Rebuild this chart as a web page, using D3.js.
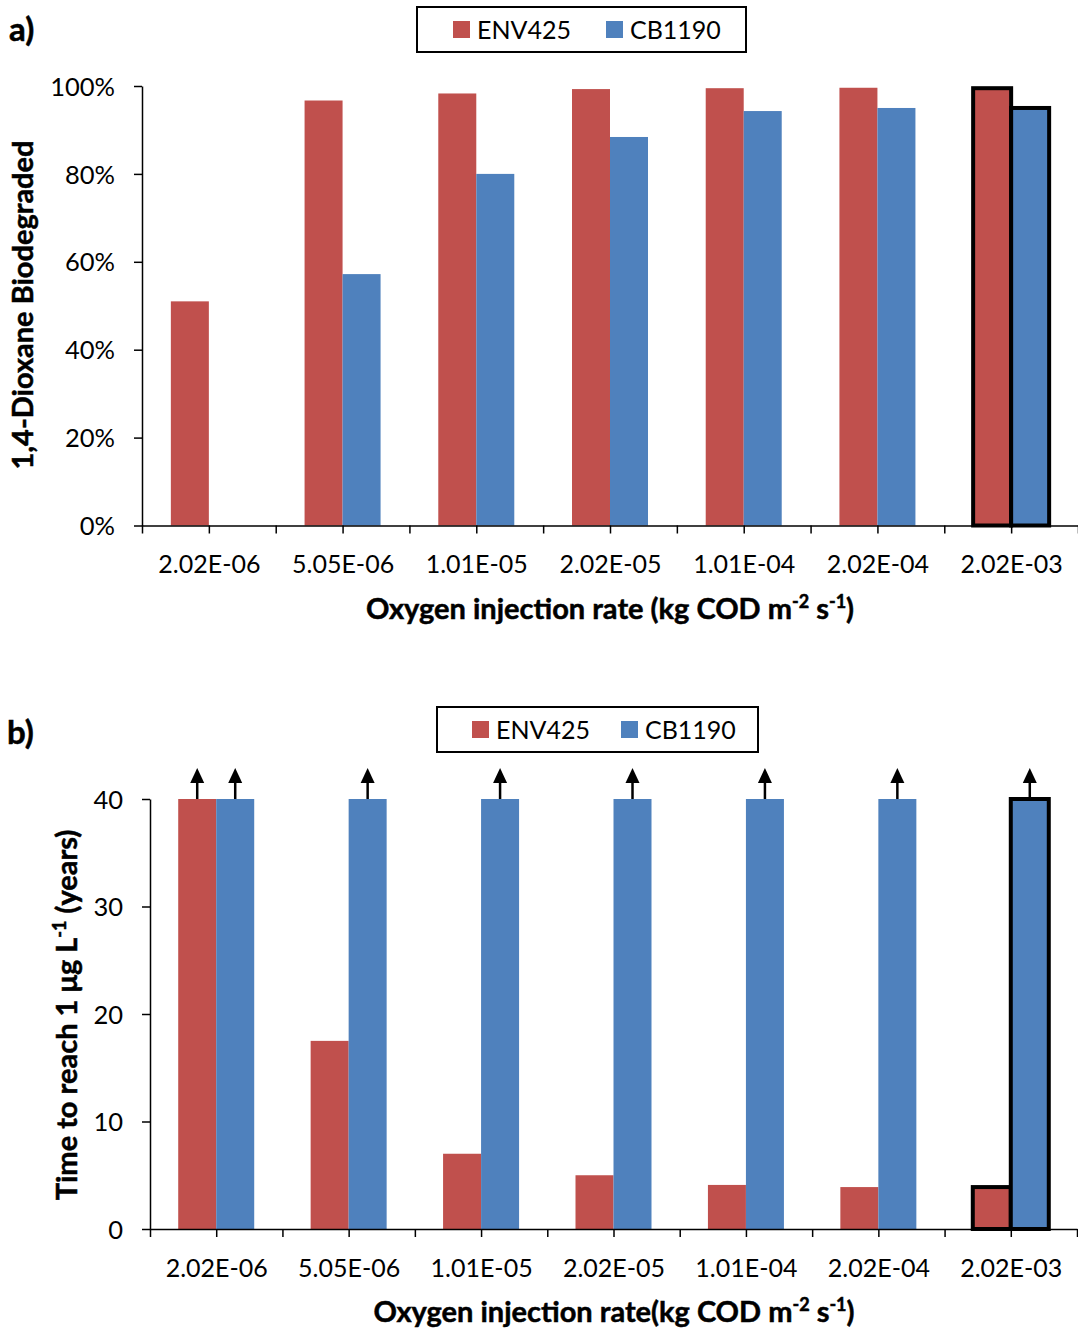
<!DOCTYPE html>
<html>
<head>
<meta charset="utf-8">
<script src="https://cdn.jsdelivr.net/npm/d3@7"></script>
<style>
  body { margin: 0; background: #fff; }
  text { font-family: Lato, "Open Sans", sans-serif; fill: #000; }
  .title { font-weight: bold; stroke: #000; stroke-width: 0.5px; }
</style>
</head>
<body>
<script>
//------------------------------------------data------------------------------------------

var categories = ["2.02E-06", "5.05E-06", "1.01E-05", "2.02E-05", "1.01E-04", "2.02E-04", "2.02E-03"];
var seriesNames = ["ENV425", "CB1190"];
var seriesColors = ["#C0504D", "#4F81BD"];

// a) fraction of 1,4-dioxane biodegraded
var degradedENV425 = [0.51, 0.967, 0.983, 0.993, 0.995, 0.996, 0.995];
var degradedCB1190 = [null, 0.572, 0.800, 0.884, 0.943, 0.950, 0.950];

// b) years to reach 1 ug/L (40 = more than 40 years, drawn with arrow)
var yearsENV425 = [40, 17.5, 7.0, 5.0, 4.1, 3.9, 3.9];
var yearsCB1190 = [40, 40, 40, 40, 40, 40, 40];
var overENV425 = [true, false, false, false, false, false, false];
var overCB1190 = [true, true, true, true, true, true, true];

var highlighted = "2.02E-03";

//------------------------------------------svg-------------------------------------------

var svg = d3.select("body").append("svg")
    .attr("width", 1078)
    .attr("height", 1331);

function drawPanel(opt) {
  var g = svg.append("g");

  var x = d3.scaleBand().domain(categories).range([opt.left, opt.right]);
  var xs = d3.scaleBand().domain(seriesNames).range([0, 76]);
  var xt = d3.scaleLinear().domain([0, categories.length]).range([opt.left, opt.right]);
  var y = d3.scaleLinear().domain(opt.domain).range([opt.bottom, opt.top]);

  var rows = categories.map(function(c, i) {
    return [
      { cat: c, s: seriesNames[0], v: opt.values[0][i], over: opt.over ? opt.over[0][i] : false },
      { cat: c, s: seriesNames[1], v: opt.values[1][i], over: opt.over ? opt.over[1][i] : false }
    ];
  });
  var bars = d3.merge(rows).filter(function(d) { return d.v != null; });

  function bx(d) { return x(d.cat) + (x.bandwidth() - 76) / 2 + xs(d.s); }

  g.selectAll("rect.bar")
    .data(bars)
    .enter().append("rect")
      .attr("class", "bar")
      .attr("x", bx)
      .attr("width", xs.bandwidth())
      .attr("y", function(d) { return y(d.v); })
      .attr("height", function(d) { return y(0) - y(d.v); })
      .attr("fill", function(d) { return seriesColors[seriesNames.indexOf(d.s)]; })
      .attr("stroke", function(d) { return d.cat == highlighted ? "#000" : "none"; })
      .attr("stroke-width", 4);

  // arrows for "more than"
  var arrows = bars.filter(function(d) { return d.over; });
  var ag = g.selectAll("g.arrow")
    .data(arrows)
    .enter().append("g")
      .attr("class", "arrow")
      .attr("transform", function(d) {
        return "translate(" + (bx(d) + xs.bandwidth() / 2) + "," + y(d.v) + ")";
      });
  ag.append("line")
    .attr("y1", 0).attr("y2", -18)
    .attr("stroke", "#000").attr("stroke-width", 2.5);
  ag.append("path")
    .attr("d", "M-7,-16L7,-16L0,-31Z")
    .attr("fill", "#000");

  // y axis
  var yAxis = g.append("g")
    .attr("transform", "translate(" + opt.left + ",0)")
    .call(d3.axisLeft(y).tickValues(opt.ticks).tickSize(8).tickSizeOuter(0).tickFormat(opt.fmt));
  yAxis.select(".domain").attr("stroke", "#000").attr("stroke-width", 1.5);
  yAxis.selectAll(".tick line").attr("stroke", "#000").attr("stroke-width", 1.5);
  yAxis.selectAll(".tick text")
    .attr("x", -27).attr("dy", "0.36em")
    .style("font-size", "25.5px").style("font-family", "Lato");

  // x axis
  var xAxis = g.append("g")
    .attr("transform", "translate(0," + opt.bottom + ")")
    .call(d3.axisBottom(xt)
      .tickValues(d3.range(0, categories.length * 2 + 1).map(function(k) { return k / 2; }))
      .tickSize(8).tickSizeOuter(0)
      .tickFormat(function(v) { return (v % 1) ? categories[Math.floor(v)] : ""; }));
  xAxis.select(".domain").attr("stroke", "#000").attr("stroke-width", 1.5);
  xAxis.selectAll(".tick line").attr("stroke", "#000").attr("stroke-width", 1.5);
  xAxis.selectAll(".tick text")
    .attr("y", 30).attr("dy", "0.71em")
    .style("font-size", "25px").style("font-family", "Lato");

  // x title
  var xt1 = g.append("text")
    .attr("class", "title")
    .attr("x", opt.xTitleX).attr("y", opt.xTitleY)
    .attr("text-anchor", "middle")
    .style("font-size", "29px");
  xt1.append("tspan").text(opt.xTitle + "kg COD m");
  xt1.append("tspan").attr("dy", -11).style("font-size", "18px").text("-2");
  xt1.append("tspan").attr("dy", 11).text(" s");
  xt1.append("tspan").attr("dy", -11).style("font-size", "18px").text("-1");
  xt1.append("tspan").attr("dy", 11).text(")");

  // y title
  var yt = g.append("text")
    .attr("class", "title")
    .attr("transform", "translate(" + opt.yTitleX + "," + opt.yTitleY + ") rotate(-90)")
    .attr("text-anchor", "middle")
    .style("font-size", opt.yTitleSize);
  opt.yTitle(yt);

  // panel letter
  g.append("text")
    .attr("class", "title")
    .attr("x", opt.letterX).attr("y", opt.letterY)
    .style("font-size", "33px")
    .text(opt.letter);

  // legend
  var lg = g.append("g").attr("transform", "translate(" + opt.legX + "," + opt.legY + ")");
  lg.append("rect")
    .attr("width", opt.legW).attr("height", 45)
    .attr("fill", "#fff").attr("stroke", "#000").attr("stroke-width", 2);
  var item = lg.selectAll("g.item")
    .data(seriesNames)
    .enter().append("g")
      .attr("class", "item")
      .attr("transform", function(d, i) { return "translate(" + opt.legItems[i] + ",0)"; });
  item.append("rect")
    .attr("y", 14).attr("width", 17).attr("height", 17)
    .attr("fill", function(d, i) { return seriesColors[i]; });
  item.append("text")
    .attr("x", 24).attr("y", 23).attr("dy", "0.36em")
    .style("font-size", "25px")
    .text(function(d) { return d; });
}

//------------------------------------------panel a---------------------------------------

drawPanel({
  left: 142, right: 1078, top: 86, bottom: 525.5,
  domain: [0, 1],
  ticks: [0, 0.2, 0.4, 0.6, 0.8, 1],
  fmt: d3.format(".0%"),
  values: [degradedENV425, degradedCB1190],
  over: null,
  xTitle: "Oxygen injection rate (",
  xTitleX: 610, xTitleY: 619,
  yTitleX: 33, yTitleY: 305, yTitleSize: "29px",
  yTitle: function(t) { t.text("1,4-Dioxane Biodegraded"); },
  letter: "a)", letterX: 9, letterY: 41,
  legX: 417, legY: 7, legW: 329, legItems: [36, 189]
});

//------------------------------------------panel b---------------------------------------

drawPanel({
  left: 150, right: 1077, top: 799, bottom: 1229,
  domain: [0, 40],
  ticks: [0, 10, 20, 30, 40],
  fmt: d3.format("d"),
  values: [yearsENV425, yearsCB1190],
  over: [overENV425, overCB1190],
  xTitle: "Oxygen injection rate(",
  xTitleX: 614, xTitleY: 1322,
  yTitleX: 77, yTitleY: 1015, yTitleSize: "29px",
  yTitle: function(t) {
    t.append("tspan").text("Time to reach 1 \u03bcg L");
    t.append("tspan").attr("dy", -11).style("font-size", "18px").text("-1");
    t.append("tspan").attr("dy", 11).text(" (years)");
  },
  letter: "b)", letterX: 7, letterY: 744,
  legX: 437, legY: 707, legW: 321, legItems: [35, 184]
});
</script>
</body>
</html>
